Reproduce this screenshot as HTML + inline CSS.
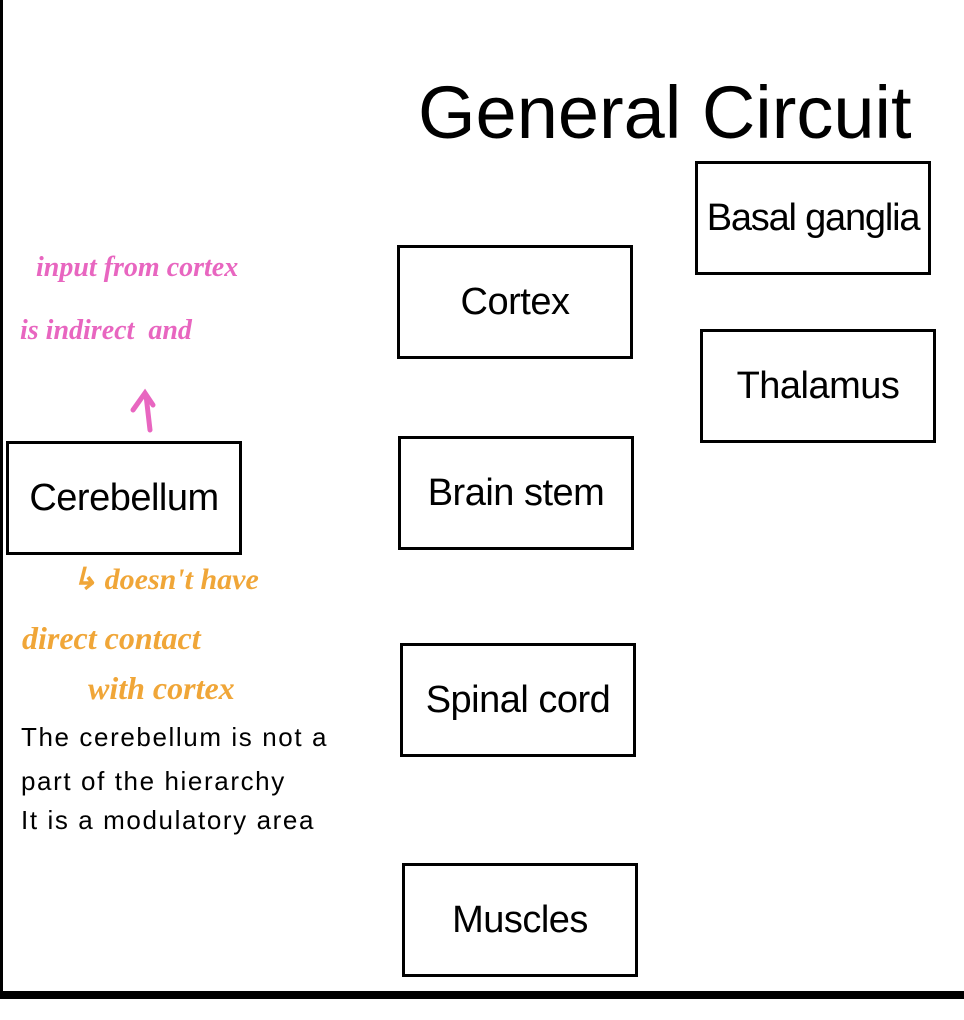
<!DOCTYPE html>
<html><head><meta charset="utf-8"><style>
body{margin:0;width:964px;height:1020px;background:#fff;position:relative;overflow:hidden;font-family:"Liberation Sans",sans-serif;}
.b{position:absolute;border:3px solid #000;box-sizing:border-box;width:236px;height:114px;display:flex;align-items:center;justify-content:center;font-size:38px;color:#000;white-space:nowrap;letter-spacing:-0.5px;}
.t{position:absolute;font-size:26px;letter-spacing:1.6px;left:21px;white-space:nowrap;}
.h{position:absolute;font-family:"Liberation Serif",serif;font-style:italic;font-weight:bold;white-space:nowrap;}
</style></head><body>
<div style="position:absolute;left:0;top:0;width:3px;height:994px;background:#000"></div>
<div style="position:absolute;left:0;top:991px;width:964px;height:8px;background:#000"></div>
<div style="position:absolute;left:418px;top:70px;font-size:74px;white-space:nowrap;letter-spacing:0px">General Circuit</div>
<div class="b" style="left:695px;top:161px;letter-spacing:-1.2px">Basal ganglia</div>
<div class="b" style="left:397px;top:245px">Cortex</div>
<div class="b" style="left:700px;top:329px">Thalamus</div>
<div class="b" style="left:6px;top:441px">Cerebellum</div>
<div class="b" style="left:398px;top:436px">Brain stem</div>
<div class="b" style="left:400px;top:643px">Spinal cord</div>
<div class="b" style="left:402px;top:863px">Muscles</div>
<div class="t" style="top:722px">The cerebellum is not a</div>
<div class="t" style="top:766px">part of the hierarchy</div>
<div class="t" style="top:805px">It is a modulatory area</div>
<div class="h" style="left:36px;top:252px;font-size:28px;color:#e866c0">input from cortex</div>
<div class="h" style="left:20px;top:315px;font-size:28px;color:#e866c0">is indirect &nbsp;and</div>
<svg style="position:absolute;left:0;top:0" width="964" height="1020">
<path d="M150 430 L146 395 M133 410 L145 393 L153 405" stroke="#e866c0" stroke-width="5" fill="none" stroke-linecap="round"/>
</svg>
<div class="h" style="left:72px;top:562px;font-size:30px;color:#f0a638">↳ doesn't have</div>
<div class="h" style="left:22px;top:620px;font-size:32px;color:#f0a638">direct contact</div>
<div class="h" style="left:88px;top:670px;font-size:32px;color:#f0a638">with cortex</div>
</body></html>
